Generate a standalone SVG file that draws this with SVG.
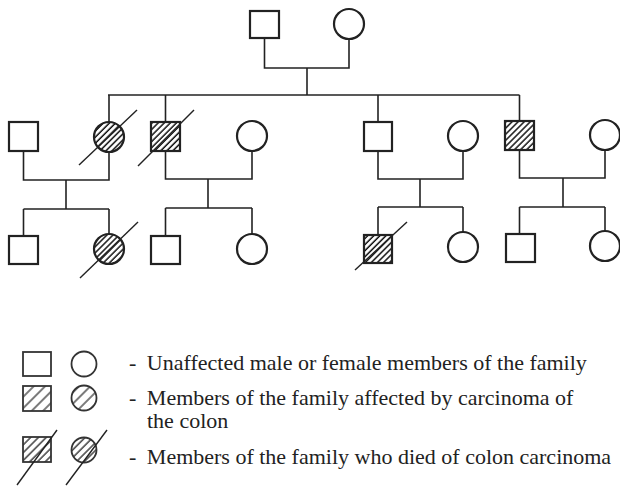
<svg xmlns="http://www.w3.org/2000/svg" width="620" height="486" viewBox="0 0 620 486">
<defs>
<pattern id="hatch" patternUnits="userSpaceOnUse" width="4.3" height="10" patternTransform="rotate(45)">
<line x1="1" y1="0" x2="1" y2="10" stroke="#111" stroke-width="1.5"/>
</pattern>
<pattern id="hatchSparse" patternUnits="userSpaceOnUse" width="8" height="10" patternTransform="rotate(45)">
<line x1="1" y1="0" x2="1" y2="10" stroke="#222" stroke-width="1.2"/>
</pattern>
<pattern id="hatchMid" patternUnits="userSpaceOnUse" width="5.5" height="10" patternTransform="rotate(45)">
<line x1="1" y1="0" x2="1" y2="10" stroke="#222" stroke-width="1.3"/>
</pattern>
</defs>
<style>
.n{fill:#fff;stroke:#222;stroke-width:2.2}
.h{fill:url(#hatch);stroke:#222;stroke-width:2.2}
.ls{fill:url(#hatchSparse);stroke:#333;stroke-width:1.8}
.lm{fill:url(#hatchMid);stroke:#333;stroke-width:1.8}
.ln{fill:#fff;stroke:#333;stroke-width:1.8}
.c{fill:none;stroke:#222;stroke-width:1.6}
.d{stroke:#222;stroke-width:1.4}
.t{font-family:"Liberation Serif","Times New Roman",serif;font-size:22px;fill:#222}
</style>
<g id="connectors" class="c">
<path d="M264.5 38 V68 H349 V39"/>
<path d="M307 68 V95"/>
<path d="M108 95 H519.5"/>
<path d="M109 95 V122 M165.5 95 V122 M378 95 V122 M519.5 95 V121"/>
<path d="M23.5 151 V180 H109 V152 M66 180 V209 M23.5 209 H109 M23.5 209 V236 M109 209 V234"/>
<path d="M165.5 151 V179 H252 V151 M208 179 V208 M165.5 208 H252 M165.5 208 V236 M252 208 V234"/>
<path d="M378 151 V179 H463 V151 M420 179 V207 M378 207 H463 M378 207 V235 M463 207 V232"/>
<path d="M519.5 150 V178 H605 V150 M563 178 V207 M519.5 207 H605 M519.5 207 V234 M605 207 V231"/>
</g>
<g id="g1-father"><rect class="n" x="250" y="11" width="29" height="27"/></g>
<g id="g1-mother"><circle class="n" cx="349" cy="24" r="15"/></g>
<g id="g2-m1"><rect class="n" x="9" y="122" width="29" height="29"/></g>
<g id="g2-f1"><circle class="h" cx="109" cy="137" r="15"/><line class="d" x1="79" y1="165" x2="137" y2="110"/></g>
<g id="g2-m2"><rect class="h" x="151" y="122" width="29" height="29"/><line class="d" x1="138" y1="166" x2="194" y2="110"/></g>
<g id="g2-f2"><circle class="n" cx="252" cy="136" r="15"/></g>
<g id="g2-m3"><rect class="n" x="364" y="122" width="28" height="29"/></g>
<g id="g2-f3"><circle class="n" cx="463" cy="136" r="15"/></g>
<g id="g2-m4"><rect class="h" x="505" y="121" width="29" height="29"/></g>
<g id="g2-f4"><circle class="n" cx="605" cy="135" r="15"/></g>
<g id="g3-m1"><rect class="n" x="9" y="236" width="29" height="28"/></g>
<g id="g3-f1"><circle class="h" cx="109" cy="249" r="15"/><line class="d" x1="80" y1="278" x2="138" y2="222"/></g>
<g id="g3-m2"><rect class="n" x="151" y="236" width="29" height="28"/></g>
<g id="g3-f2"><circle class="n" cx="252" cy="249" r="15"/></g>
<g id="g3-m3"><rect class="h" x="364" y="235" width="28" height="28"/><line class="d" x1="355" y1="270" x2="407" y2="222"/></g>
<g id="g3-f3"><circle class="n" cx="463" cy="247" r="15"/></g>
<g id="g3-m4"><rect class="n" x="506" y="234" width="29" height="28"/></g>
<g id="g3-f4"><circle class="n" cx="605" cy="246" r="15"/></g>
<g id="legend-unaffected">
<rect class="ln" x="23" y="352" width="28" height="24"/>
<circle class="ln" cx="84" cy="364" r="12.5"/>
<text class="t" x="129" y="370">-<tspan dx="5"> Unaffected male or female members of the family</tspan></text>
</g>
<g id="legend-affected">
<rect class="ls" x="23" y="386" width="28" height="25"/>
<circle class="ls" cx="84" cy="398" r="12.5"/>
<text class="t" x="129" y="405">-<tspan dx="5"> Members of the family affected by carcinoma of</tspan></text>
<text class="t" x="147" y="428">the colon</text>
</g>
<g id="legend-died">
<rect class="lm" x="23" y="437" width="28" height="25"/>
<line class="d" x1="17" y1="485" x2="57" y2="430"/>
<circle class="lm" cx="84" cy="450" r="12.5"/>
<line class="d" x1="66" y1="485" x2="107" y2="430"/>
<text class="t" x="129" y="464">-<tspan dx="5"> Members of the family who died of colon carcinoma</tspan></text>
</g>
</svg>
